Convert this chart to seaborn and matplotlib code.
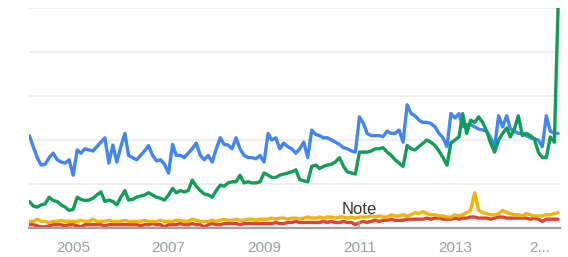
import numpy as np
import pandas as pd
import matplotlib
matplotlib.use("Agg")
import matplotlib.pyplot as plt
import seaborn as sns

# ---- data (monthly, Feb 2004 .. Mar 2015) ----
dates = pd.date_range("2004-02-01", periods=134, freq="MS")

blue = [42, 37, 32, 28.6, 29, 32, 34, 31, 30, 29.5, 31, 24,
        35.5, 34, 36, 35.5, 35, 37, 39, 41, 29.5, 37.7, 30, 37,
        43, 33, 32, 31, 33, 35, 37.5, 33, 30.5, 31, 29, 25,
        38, 33, 33, 32, 34, 36, 38.6, 33, 31, 33, 30, 36,
        41, 38, 37.7, 36, 41, 36, 33, 32, 32, 31.5, 33, 30,
        43, 40, 41, 36, 38.6, 37, 36, 34, 36, 39, 32, 44.5,
        42.5, 42, 41, 41, 40, 39, 38, 36.5, 36, 35, 34.5, 50.5,
        47.5, 43, 42, 42, 42, 41.5, 44, 43, 43, 44.5, 39, 56,
        52, 51, 49, 48, 48, 47.5, 46, 43, 41, 37, 52, 50,
        52, 46, 47, 47, 46, 45, 44.5, 44, 41, 37, 51, 46,
        51, 45, 44, 43, 43, 42, 41, 40.5, 40, 37, 51, 44,
        43, 43]

green = [12, 10, 9.5, 10.5, 11, 14, 12.5, 12, 10.5, 9.5, 8, 8.5,
         14, 13, 12.5, 12.7, 13.5, 15, 16.4, 12, 12.7, 12, 10.5, 14,
         17, 12.7, 13, 14, 14.5, 15, 16, 15, 14, 13.5, 12.7, 15,
         18, 16, 17, 16.4, 17, 21.8, 19, 17, 15.5, 15, 14, 17,
         19.5, 19, 20.5, 21, 21, 24, 20.5, 21, 20.5, 20.5, 21, 25,
         24, 23, 23, 24, 24.5, 25, 25.5, 26.4, 22, 21.5, 21, 28,
         28.6, 27, 28, 28.6, 29, 30, 32, 28, 25.5, 25, 24.5, 34.5,
         34.5, 34.5, 35, 36, 36, 36.5, 34.5, 33, 31, 29.5, 28, 37.5,
         36, 35.5, 37, 38.5, 40, 39, 37.5, 35, 32, 28.6, 38.6, 40,
         41.4, 52, 43, 49, 48, 50.5, 48, 44, 38.6, 34.5, 40, 43,
         45.5, 41.4, 45, 51, 42, 43, 42, 40.5, 34.5, 32, 32, 41.4,
         39, 100]

yellow = [3, 3, 4, 3, 3, 2.5, 3, 3, 3.5, 3, 3, 3,
          3, 3.5, 3, 3, 4, 3, 3, 3, 3.5, 3, 3, 3,
          3.5, 3, 3, 3, 3, 3.5, 3, 3, 3, 3.5, 3, 3,
          3, 3.5, 3.5, 3, 3, 4, 3.5, 3, 3, 3, 3.5, 3,
          3.5, 4, 3.5, 3.5, 4, 3.5, 3.5, 4, 4, 3.5, 4, 4,
          4, 4.5, 4, 4.5, 4.5, 4, 4.5, 4.5, 4, 4.5, 5, 4.5,
          4.5, 5, 4.5, 5, 5, 4.5, 5, 5, 4.5, 5, 4.5, 5,
          5, 5, 5.5, 5, 5.5, 5, 5, 6, 5.5, 5.5, 6, 5.5,
          6, 7, 6.5, 7.5, 6.5, 6, 6, 5.5, 5.5, 5, 5, 6,
          5.5, 6, 7, 8, 16, 8, 7, 6.5, 6, 6, 6.5, 8,
          7, 6.5, 6, 6, 5.5, 6.5, 6, 5.5, 5.5, 5.5, 6, 6,
          6.5, 7]

red = [1.5, 1.5, 1, 0.5, 0.5, 1, 1.5, 1.5, 1.5, 1, 1.5, 1.5,
       1, 0.5, 1.5, 1.5, 1.5, 1.5, 1.5, 1, 1.5, 1.5, 1.5, 1.5,
       1.5, 1.5, 1.5, 1.5, 1, 1.5, 1.5, 2, 1.5, 1.5, 0.5, 1.5,
       1.5, 1.5, 2, 1.5, 1.5, 2, 1.5, 1.5, 0.5, 1.5, 2, 1.5,
       1.5, 2, 2, 2, 2, 1.5, 2, 2, 2, 2, 2, 2,
       2, 2, 2.5, 2, 2, 2.5, 2.5, 3, 2.5, 2.5, 2.5, 2.5,
       2.5, 2.5, 3, 2.5, 3, 2.5, 2.5, 3, 2.5, 2.5, 1.5, 2.5,
       3, 2.5, 3, 3.5, 3, 3.5, 3.5, 4, 3.5, 3.5, 3.5, 4,
       4, 4, 4, 4, 4.5, 4, 4.5, 4.5, 4, 4, 4, 4.5,
       4, 4.5, 4.5, 5, 5, 4.5, 4.5, 4.5, 4, 4.5, 5, 5,
       4.5, 4.5, 4.5, 4.5, 4.5, 4.5, 4, 4.5, 4, 3, 4, 4,
       4, 4]

series_names = ["A", "B", "C", "D"]
colors = {"A": "#4285f4", "B": "#109d58", "C": "#db4437", "D": "#f4b400"}

tick_years = [2005, 2007, 2009, 2011, 2013, 2015]
tick_labels = ["2005", "2007", "2009", "2011", "2013", "2..."]
y_grid = [20, 40, 60, 80, 100]

note_date = pd.Timestamp("2011-01-01")
note_text = "Note"

# ---- build long table ----
df = pd.concat([
    pd.DataFrame({"date": dates, "value": vals, "series": name})
    for name, vals in zip(series_names, [blue, green, red, yellow])
], ignore_index=True)

sns.set_theme(style="white")
plt.rcParams["font.family"] = ["Liberation Sans", "DejaVu Sans"]

fig = plt.figure(figsize=(5.68, 2.57), dpi=100)
ax = fig.add_axes([29 / 568, 1 - 228 / 257, 531 / 568, 220 / 257])

# gridlines
for g in y_grid:
    ax.axhline(g, color="#ebebeb", lw=1.2, zorder=0)

order = ["C", "D", "A", "B"]
for name in order:
    sub = df[df["series"] == name]
    sns.lineplot(data=sub, x="date", y="value", color=colors[name],
                 lw=2.4, ax=ax, legend=False, zorder=3)

ax.set_ylim(0, 100)
ax.set_xlim(dates[0] - pd.Timedelta(days=3), dates[-1] + pd.Timedelta(days=15))

for s in ["top", "right", "left"]:
    ax.spines[s].set_visible(False)
ax.spines["bottom"].set_color("#a0a0a0")
ax.spines["bottom"].set_linewidth(1.6)
ax.spines["bottom"].set_zorder(5)

ax.set_yticks([])
ax.set_xticks([pd.Timestamp(f"{y}-01-01") for y in tick_years])
ax.set_xticklabels(tick_labels)
ax.tick_params(axis="x", length=0, pad=9, labelsize=11, labelcolor="#9aa0a8")
ax.get_xticklabels()[-1].set_ha("right")
ax.set_xlabel("")
ax.set_ylabel("")

# note marker
ax.plot([note_date, note_date], [0, 3], color="#a0a0a0", lw=1.2, zorder=4,
        solid_capstyle="butt")
ax.text(note_date, 5, note_text, ha="center", va="bottom", fontsize=12,
        color="#333333", zorder=6)

fig.savefig("out.png", dpi=100)
